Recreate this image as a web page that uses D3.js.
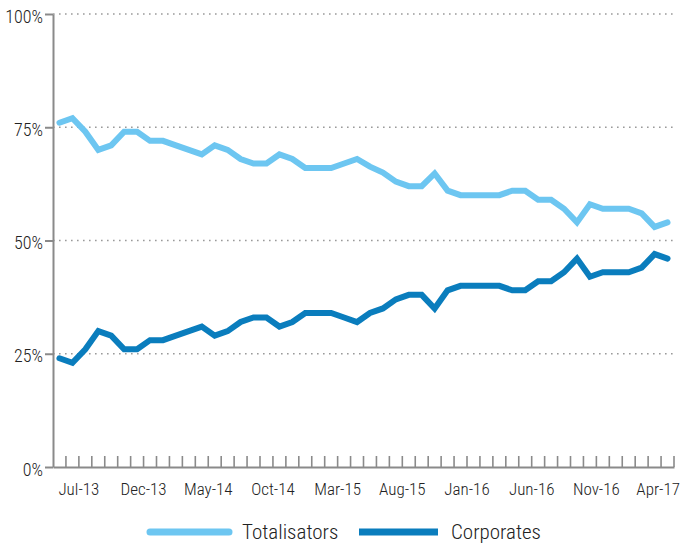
<!DOCTYPE html>
<html>
<head>
<meta charset="utf-8">
<script src="https://cdn.jsdelivr.net/npm/d3@7"></script>
<style>
  body { margin: 0; background: #fff; }
  text { font-family: Roboto, sans-serif; font-stretch: condensed; font-weight: 300; fill: #222; }
</style>
</head>
<body>
<div id="chart"></div>
<script>
// months Jun-13 .. May-17
var months = ["Jun-13","Jul-13","Aug-13","Sep-13","Oct-13","Nov-13","Dec-13","Jan-14","Feb-14","Mar-14","Apr-14","May-14",
  "Jun-14","Jul-14","Aug-14","Sep-14","Oct-14","Nov-14","Dec-14","Jan-15","Feb-15","Mar-15","Apr-15","May-15",
  "Jun-15","Jul-15","Aug-15","Sep-15","Oct-15","Nov-15","Dec-15","Jan-16","Feb-16","Mar-16","Apr-16","May-16",
  "Jun-16","Jul-16","Aug-16","Sep-16","Oct-16","Nov-16","Dec-16","Jan-17","Feb-17","Mar-17","Apr-17","May-17"];

var totalisators = [76, 77, 74, 70, 71, 74, 74, 72, 72, 71, 70, 69,
  71, 70, 68, 67, 67, 69, 68, 66, 66, 66, 67, 68,
  66.3, 65, 63, 62, 62, 64.8, 61, 60, 60, 60, 60, 61,
  61, 59, 59, 57, 54, 58, 57, 57, 57, 56, 53, 54];

var corporates = [24, 23, 26, 30, 29, 26, 26, 28, 28, 29, 30, 31,
  29, 30, 32, 33, 33, 31, 32, 34, 34, 34, 33, 32,
  34, 35, 37, 38, 38, 35, 39, 40, 40, 40, 40, 39,
  39, 41, 41, 43, 46, 42, 43, 43, 43, 44, 47, 46];

var yTicks = [0, 25, 50, 75, 100];
var xLabels = ["Jul-13","Dec-13","May-14","Oct-14","Mar-15","Aug-15","Jan-16","Jun-16","Nov-16","Apr-17"];

var seriesNames = ["Totalisators", "Corporates"];
var colors = ["#6dc6f1", "#0a7dbd"];

var width = 681, height = 545;
var marginLeft = 53, marginRight = 7, marginTop = 14, marginBottom = 78;
var innerW = width - marginLeft - marginRight;
var innerH = height - marginTop - marginBottom;

var svg = d3.select('#chart')
  .append('svg')
  .attr('width', width)
  .attr('height', height)
  .append('g')
  .attr('transform', 'translate(' + marginLeft + ',' + marginTop + ')');

var x = d3.scaleBand().domain(months).range([0, innerW]).padding(0);
var y = d3.scaleLinear().domain([0, 100]).range([innerH, 0]);
var bw = x.bandwidth();

// dotted gridlines
svg.append('g')
  .selectAll('line')
  .data(yTicks.filter(d => d > 0))
  .join('line')
  .attr('x1', 0)
  .attr('x2', innerW)
  .attr('y1', d => y(d))
  .attr('y2', d => y(d))
  .attr('stroke', '#9a9a9a')
  .attr('stroke-width', 1.6)
  .attr('stroke-dasharray', '1.6,4.4');

// Y axis
var yAxis = svg.append('g')
  .call(d3.axisLeft(y).tickValues(yTicks).tickSize(8).tickSizeOuter(0).tickFormat(d => d + '%'));
yAxis.attr('font-family', null).attr('font-size', null);
yAxis.select('.domain').attr('stroke', '#8a8a8a').attr('stroke-width', 2);
yAxis.selectAll('.tick line').attr('stroke', '#8a8a8a').attr('stroke-width', 2);
yAxis.selectAll('.tick text')
  .attr('x', -10)
  .attr('dy', '0.45em')
  .style('font-size', '18px')
  .attr('fill', '#222');

// X axis: ticks on category boundaries, pointing up
var xAxis = svg.append('g')
  .attr('transform', 'translate(0,' + innerH + ')')
  .call(d3.axisBottom(x).tickSize(-11).tickSizeOuter(0).tickFormat(d => xLabels.indexOf(d) >= 0 ? d : ''));
xAxis.attr('font-family', null).attr('font-size', null);
xAxis.select('.domain').attr('stroke', '#8a8a8a').attr('stroke-width', 2);
xAxis.selectAll('.tick').attr('transform', d => 'translate(' + (x(d) + bw) + ',0)');
xAxis.selectAll('.tick line').attr('stroke', '#8a8a8a').attr('stroke-width', 1.6);
xAxis.selectAll('.tick text')
  .attr('y', 16)
  .attr('dy', '0.71em')
  .style('font-size', '17px')
  .attr('fill', '#222');

// keep the last label inside the page
xAxis.selectAll('.tick text').each(function(d) {
  var b = this.getBBox();
  var right = marginLeft + x(d) + bw + b.x + b.width;
  if (right > width - 1) d3.select(this).attr('x', (width - 1) - right);
});

// Lines
var line = d3.line()
  .x((d, i) => x(months[i]) + bw / 2)
  .y(d => y(d));

[totalisators, corporates].forEach(function(values, k) {
  svg.append('path')
    .datum(values)
    .attr('fill', 'none')
    .attr('stroke', colors[k])
    .attr('stroke-width', 6)
    .attr('stroke-linejoin', 'miter')
    .attr('stroke-linecap', 'round')
    .attr('d', line);
});

// Legend
var legend = d3.select('svg').append('g');
var legendX = [150, 359];
seriesNames.forEach(function(name, k) {
  legend.append('line')
    .attr('x1', legendX[k])
    .attr('x2', legendX[k] + 79)
    .attr('y1', 532)
    .attr('y2', 532)
    .attr('stroke', colors[k])
    .attr('stroke-width', 7)
    .attr('stroke-linecap', k === 0 ? 'round' : 'butt');
  legend.append('text')
    .attr('x', legendX[k] + 92)
    .attr('y', 539)
    .style('font-size', '21px')
    .text(name);
});
</script>
</body>
</html>
